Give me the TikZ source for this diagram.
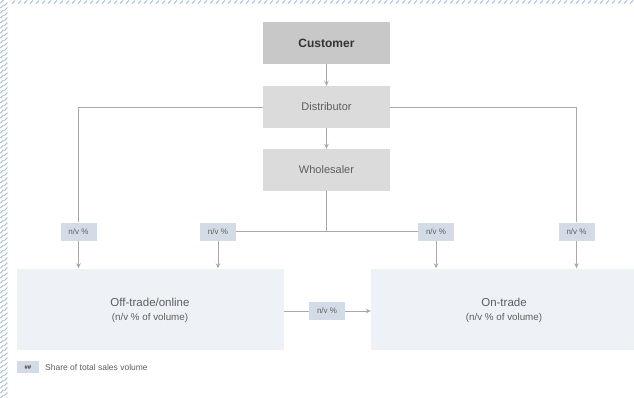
\documentclass[tikz,border=0pt]{standalone}
\usepackage{fontspec}
\setmainfont{Liberation Sans}
\usetikzlibrary{arrows.meta}
\definecolor{custfill}{HTML}{C8C8C8}
\definecolor{stepfill}{HTML}{DBDBDB}
\definecolor{labfill}{HTML}{D3DCE6}
\definecolor{chanfill}{HTML}{EEF1F6}
\definecolor{linecol}{HTML}{A8A8A8}
\definecolor{txtcol}{HTML}{5E5E5E}
\definecolor{darktxt}{HTML}{333333}
\definecolor{hatchcol}{HTML}{A6BAD6}
\tikzset{
  flowbox/.style={rectangle, draw=none, fill=stepfill, minimum width=127pt, minimum height=42pt, inner sep=0pt, text=txtcol, font=\fontsize{11}{13}\selectfont},
  sharelab/.style={rectangle, draw=none, fill=labfill, minimum width=36pt, minimum height=18pt, inner sep=0pt, text=txtcol, font=\fontsize{8}{9}\selectfont},
  chanbox/.style={rectangle, draw=none, fill=chanfill, inner sep=0pt, text=txtcol, align=center},
  conn/.style={draw=linecol, line width=0.9pt},
  arr/.style={conn, -{Stealth[length=5pt,width=4.5pt]}},
  hatch/.style={draw=hatchcol, line width=0.9pt}
}
\begin{document}
\begin{tikzpicture}[x=1pt,y=-1pt]
\useasboundingbox (0,0) rectangle (634,397);
% hatched clip border
\foreach \yy in {0,5,...,400} {
  \draw[hatch] (0.5,\yy+3) -- (3.5,\yy);
  \draw[hatch] (4.5,\yy+5.5) -- (7.5,\yy+2.5);
}
\foreach \xx in {12,18,...,634} \draw[hatch] (\xx,3.5) -- (\xx+3,0.5);
% main column
\node[flowbox, fill=custfill, text=darktxt, font=\fontsize{12}{14}\selectfont\bfseries] (cust) at (326.5,43) {Customer};
\node[flowbox] (dist) at (326.5,107) {Distributor};
\node[flowbox] (whol) at (326.5,170) {Wholesaler};
% channel boxes
\node[chanbox, minimum width=267pt, minimum height=81pt] (off) at (150,309) {};
\node[chanbox, minimum width=264pt, minimum height=81pt] (on) at (503,309) {};
\node[text=txtcol, font=\fontsize{11.5}{13}\selectfont] (offt) at (150,302) {Off-trade/online};
\node[text=txtcol, font=\fontsize{9.8}{12}\selectfont] (offs) at (150,318) {(n/v \% of volume)};
\node[text=txtcol, font=\fontsize{11.5}{13}\selectfont] (ont) at (504,302) {On-trade};
\node[text=txtcol, font=\fontsize{9.8}{12}\selectfont] (ons) at (504,318) {(n/v \% of volume)};
% share labels
\node[sharelab] (l1) at (78.5,231.5) {n/v \%};
\node[sharelab] (l2) at (218,231.5) {n/v \%};
\node[sharelab] (l3) at (436,231.5) {n/v \%};
\node[sharelab] (l4) at (576.5,231.5) {n/v \%};
\node[sharelab] (lm) at (327,311) {n/v \%};
% connectors
\draw[arr] (cust) -- (dist);
\draw[arr] (dist) -- (whol);
\draw[conn] (dist.west) -| (l1.north);
\draw[conn] (dist.east) -| (l4.north);
\draw[conn] (whol.south) -- (whol.south |- l2.east);
\draw[conn] (l2.east) -- (l3.west);
\draw[arr] (l1.south) -- (l1.south |- off.north);
\draw[arr] (l2.south) -- (l2.south |- off.north);
\draw[arr] (l3.south) -- (l3.south |- on.north);
\draw[arr] (l4.south) -- (l4.south |- on.north);
\draw[conn] (off.east |- lm.west) -- (lm.west);
\draw[arr] (lm.east) -- (on.west |- lm.east);
% legend
\node[sharelab, minimum width=22pt, minimum height=12pt, text=darktxt, font=\fontsize{6}{7}\selectfont\bfseries] (leg) at (28,367) {\#\#};
\node[anchor=west, text=txtcol, font=\fontsize{8.5}{10}\selectfont, inner sep=0pt] (legt) at (45,367) {Share of total sales volume};
\end{tikzpicture}
\end{document}
